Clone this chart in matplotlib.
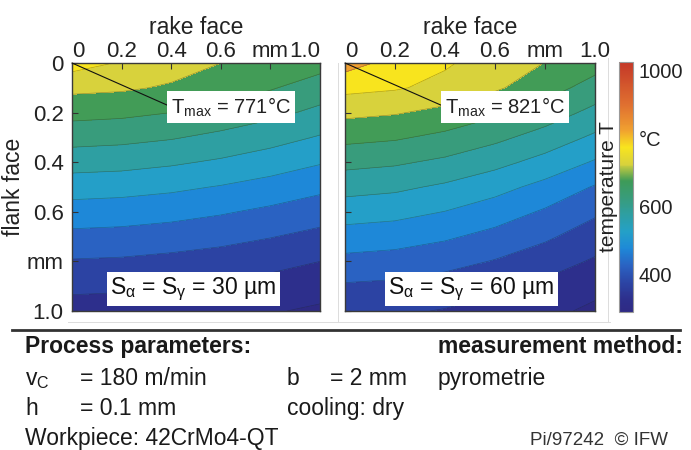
import numpy as np
import matplotlib
matplotlib.use('Agg')
import matplotlib.pyplot as plt
from matplotlib.colors import LinearSegmentedColormap, Normalize
from matplotlib.cm import ScalarMappable
from matplotlib.lines import Line2D

plt.rcParams['font.family'] = ['Liberation Sans', 'DejaVu Sans']
plt.rcParams['mathtext.fontset'] = 'custom'
plt.rcParams['mathtext.rm'] = 'Liberation Sans'
plt.rcParams['mathtext.it'] = 'Liberation Sans:italic'
plt.rcParams['mathtext.bf'] = 'Liberation Sans:bold'

# grid positions (mm)
rake_mm = [0.0, 0.2, 0.4, 0.6, 0.8, 1.0]
flank_mm = [0.0, 0.1, 0.2, 0.3, 0.4, 0.5, 0.6, 0.7, 0.8, 0.9, 1.0]

# temperatures (rows = flank depth, cols = rake position)
temp_30um = [
    [771, 746, 722, 700, 683, 668],
    [712, 707, 694, 676, 654, 627],
    [666, 661, 650, 633, 613, 588],
    [619, 614, 604, 588, 569, 546],
    [571, 567, 557, 543, 525, 504],
    [523, 519, 510, 497, 481, 462],
    [478, 474, 467, 455, 440, 423],
    [437, 434, 426, 416, 402, 386],
    [396, 393, 386, 377, 365, 350],
    [361, 358, 352, 344, 333, 320],
    [329, 327, 321, 314, 304, 292],
]
temp_60um = [
    [821, 783, 756, 728, 699, 670],
    [764, 755, 736, 707, 672, 629],
    [712, 704, 686, 659, 626, 586],
    [664, 656, 638, 612, 580, 541],
    [615, 607, 590, 565, 533, 495],
    [568, 560, 542, 517, 485, 446],
    [523, 516, 499, 475, 444, 408],
    [479, 472, 457, 435, 408, 375],
    [436, 430, 417, 397, 373, 344],
    [394, 389, 377, 360, 339, 314],
    [362, 357, 347, 332, 313, 290],
]
t_max = [771, 821]
spacing_um = [30, 60]
levels = [250, 300, 350, 400, 450, 500, 550, 600, 650, 700, 750, 800, 850]

tick_pos = [0, 0.2, 0.4, 0.6, 0.8, 1.0]
tick_text = ['0', '0.2', '0.4', '0.6', 'mm', '1.0']
cbar_ticks = [400, 600, 800, 1000]
cbar_text = ['400', '600', '°C', '1000']

# colour scale (value -> colour)
cmap_values = [290, 325, 375, 425, 475, 525, 575, 625, 675, 725, 775, 825, 900, 1025]
cmap_colors = ['#2e2a84', '#2d2f8c', '#2c44a4', '#2a62c2', '#1e88d8', '#24a0c8',
               '#2e9fa2', '#389c7c', '#3e9b58', '#d8d23c', '#f8e41e', '#f0a030',
               '#e07030', '#c43828']
vmin, vmax = cmap_values[0], cmap_values[-1]
pos = [(v - vmin) / (vmax - vmin) for v in cmap_values]
cmap = LinearSegmentedColormap.from_list('temp', list(zip(pos, cmap_colors)))
norm = Normalize(vmin=vmin, vmax=vmax)

W, H = 691, 450


def fx(px):
    return px / W


def fy(py):
    return 1 - py / H


fig = plt.figure(figsize=(W / 100, H / 100), dpi=100)
fig.patch.set_facecolor('white')

# faint panel frames
frame_kw = dict(color='#dcdcdc', lw=0.7, transform=fig.transFigure, zorder=0)
fig.add_artist(Line2D([fx(68), fx(610)], [fy(322), fy(322)], **frame_kw))
fig.add_artist(Line2D([fx(338), fx(338)], [fy(63), fy(322)], **frame_kw))
fig.add_artist(Line2D([fx(608), fx(608)], [fy(58), fy(322)], **frame_kw))

panels = [(72, 320), (345, 595)]
label_x = [0.49, 0.505]
X, Y = np.meshgrid(rake_mm, flank_mm)

for i, data in enumerate([temp_30um, temp_60um]):
    x0, x1 = panels[i]
    ax = fig.add_axes([fx(x0), fy(311), fx(x1) - fx(x0), fy(63) - fy(311)])
    T = np.array(data, dtype=float)
    ax.contourf(X, Y, T, levels=levels, cmap=cmap, norm=norm)
    ax.contour(X, Y, T, levels=levels, colors='#202020', linewidths=0.5, alpha=0.35)
    ax.set_xlim(0, 1)
    ax.set_ylim(1, 0)
    ax.xaxis.tick_top()
    ax.xaxis.set_label_position('top')
    ax.set_xticks(tick_pos)
    ax.set_xticklabels(tick_text)
    ax.set_yticks(tick_pos)
    if i == 0:
        ax.set_yticklabels(tick_text)
        ax.set_ylabel('flank face', fontsize=16.5, color='#222222', labelpad=1.5)
    else:
        ax.set_yticklabels([])
    ax.set_xlabel('rake face', fontsize=16.5, color='#222222', labelpad=5)
    ax.tick_params(direction='in', length=4, width=0.8, color='#333333',
                   labelsize=16, labelcolor='#222222')
    ax.tick_params(axis='x', pad=1)
    ax.tick_params(axis='y', pad=6)
    xl = ax.get_xticklabels()
    xl[0].set_ha('left')
    if i == 0:
        xl[-1].set_ha('right')
    for sp in ax.spines.values():
        sp.set_color('#3a3a3a')
        sp.set_linewidth(1.0)

    ax.annotate(r'T$_\mathrm{max}$ = %d°C' % t_max[i], xy=(0, 0), xytext=(0.400, 0.177),
                textcoords='data', ha='left', va='center', fontsize=14.5, color='#222222',
                bbox=dict(boxstyle='square,pad=0.2', fc='white', ec='none'),
                arrowprops=dict(arrowstyle='-', color='#111111', lw=0.8,
                                shrinkA=0, shrinkB=0, relpos=(0, 0.5)))
    ax.text(label_x[i], 0.912,
            r'S$_{\mathrm{\alpha}}$ = S$_{\mathrm{\gamma}}$ = %d µm' % spacing_um[i],
            ha='center', va='center', fontsize=16.5, color='#111111',
            bbox=dict(boxstyle='square,pad=0.15', fc='white', ec='none'))

# colour bar
cax = fig.add_axes([fx(619), fy(312), fx(633) - fx(619), fy(62) - fy(312)])
cb = fig.colorbar(ScalarMappable(norm=norm, cmap=cmap), cax=cax)
cb.set_ticks(cbar_ticks)
cb.set_ticklabels(cbar_text)
cb.outline.set_edgecolor('#999999')
cb.outline.set_linewidth(0.8)
cax.tick_params(length=0, labelsize=14.5, labelcolor='#222222', pad=4)
cax.yaxis.set_label_position('left')
cb.set_label('temperature T', fontsize=15, color='#222222', labelpad=1)

# separator and process info
fig.add_artist(Line2D([fx(12), fx(680)], [fy(330), fy(330)], color='#333333', lw=2,
                      transform=fig.transFigure))

txt = dict(fontsize=16.5, color='#1a1a1a', va='baseline', ha='left')
fig.text(fx(25), fy(353), 'Process parameters:', fontweight='bold', **txt)
fig.text(fx(438), fy(353), 'measurement method:', fontweight='bold', **txt)
fig.text(fx(25), fy(385), r'v$_\mathrm{C}$', **txt)
fig.text(fx(80), fy(385), '= 180 m/min', **txt)
fig.text(fx(287), fy(385), 'b', **txt)
fig.text(fx(330), fy(385), '= 2 mm', **txt)
fig.text(fx(438), fy(385), 'pyrometrie', **txt)
fig.text(fx(25), fy(415), 'h', **txt)
fig.text(fx(80), fy(415), '= 0.1 mm', **txt)
fig.text(fx(287), fy(415), 'cooling: dry', **txt)
fig.text(fx(25), fy(445), 'Workpiece: 42CrMo4-QT', **txt)
fig.text(fx(668), fy(445), 'Pi/97242  © IFW', fontsize=13.5, color='#333333',
         va='baseline', ha='right')

fig.savefig('out.png', dpi=100)
